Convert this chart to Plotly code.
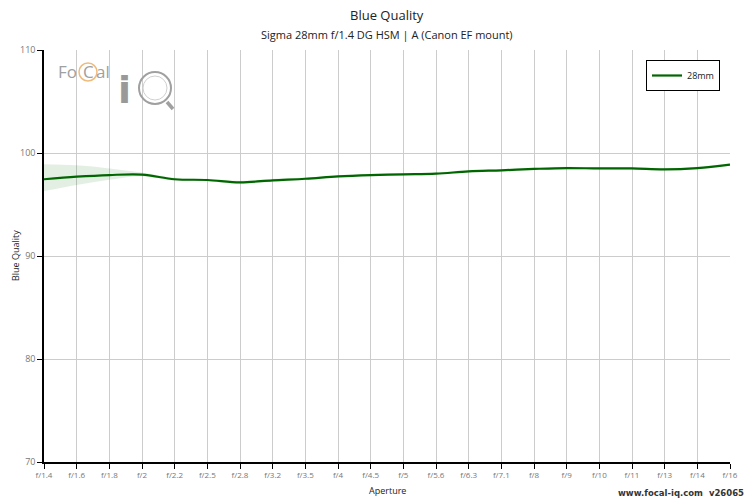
import plotly.graph_objects as go

# apertures and measured values
apertures = ["f/1.4", "f/1.6", "f/1.8", "f/2", "f/2.2", "f/2.5", "f/2.8", "f/3.2",
             "f/3.5", "f/4", "f/4.5", "f/5", "f/5.6", "f/6.3", "f/7.1", "f/8",
             "f/9", "f/10", "f/11", "f/13", "f/14", "f/16"]
quality = [97.45, 97.7, 97.86, 97.9, 97.45, 97.38, 97.15, 97.35, 97.5, 97.73, 97.86,
           97.93, 97.99, 98.22, 98.32, 98.45, 98.54, 98.5, 98.5, 98.41, 98.54, 98.87]
upper = [98.9, 98.8, 98.5, 98.1, 97.6, 97.5, 97.3, 97.5, 97.62, 97.85, 97.98,
         98.05, 98.1, 98.34, 98.44, 98.57, 98.66, 98.62, 98.62, 98.53, 98.66, 98.97]
lower = [96.3, 96.9, 97.4, 97.75, 97.3, 97.26, 97.0, 97.2, 97.38, 97.61, 97.74,
         97.81, 97.88, 98.1, 98.2, 98.33, 98.42, 98.38, 98.38, 98.29, 98.42, 98.77]

font = "Open Sans, Noto Sans, sans-serif"
L, R, T, B = 44, 730, 50, 462
W, H = R - L, B - T


def px(x):
    return (x - L) / W


def py(y):
    return (B - y) / H


fig = go.Figure()

fig.add_trace(go.Scatter(x=apertures, y=upper, mode="lines", line=dict(width=0, shape="spline"),
                         showlegend=False, hoverinfo="skip"))
fig.add_trace(go.Scatter(x=apertures, y=lower, mode="lines", line=dict(width=0, shape="spline"),
                         fill="tonexty", fillcolor="rgba(0,110,0,0.11)",
                         showlegend=False, hoverinfo="skip"))
fig.add_trace(go.Scatter(x=apertures, y=quality, mode="lines", name="28mm",
                         line=dict(color="#006600", width=2.2, shape="spline")))

# titles
fig.add_annotation(x=0.5, y=py(15), xref="paper", yref="paper", text="Blue Quality", showarrow=False,
                   xanchor="center", yanchor="middle", font=dict(family=font, size=13, color="#222222"))
fig.add_annotation(x=0.5, y=py(34), xref="paper", yref="paper",
                   text="Sigma 28mm f/1.4 DG HSM | A (Canon EF mount)", showarrow=False,
                   xanchor="center", yanchor="middle", font=dict(family=font, size=11, color="#222222"))
fig.add_annotation(x=0.5, y=py(490), xref="paper", yref="paper", text="Aperture", showarrow=False,
                   xanchor="center", yanchor="middle", font=dict(family=font, size=9, color="#222222"))
fig.add_annotation(x=px(15), y=py(256), xref="paper", yref="paper", text="Blue Quality", showarrow=False,
                   textangle=-90, xanchor="center", yanchor="middle",
                   font=dict(family=font, size=9, color="#222222"))

# logo watermark
logo_grey = "#a0a0a0"
for txt, xx in [("Fo", 56), ("C", 81), ("al", 94)]:
    fig.add_annotation(x=px(xx), y=py(72), xref="paper", yref="paper", text=txt, showarrow=False,
                       font=dict(family=font, size=17, color=logo_grey), xanchor="left", yanchor="middle")
fig.add_annotation(x=px(116), y=py(90), xref="paper", yref="paper", text="<b>i</b>",
                   showarrow=False, font=dict(family="DejaVu Sans", size=38, color="#999999"),
                   xanchor="left", yanchor="middle")
fig.add_shape(type="circle", xref="paper", yref="paper",
              x0=px(79), x1=px(97), y0=py(81), y1=py(63),
              line=dict(color="rgba(235,170,90,0.8)", width=1.5))
fig.add_shape(type="circle", xref="paper", yref="paper",
              x0=px(139), x1=px(171), y0=py(104), y1=py(72),
              line=dict(color="#a0a0a0", width=2))
fig.add_shape(type="circle", xref="paper", yref="paper",
              x0=px(143), x1=px(167), y0=py(100), y1=py(76),
              line=dict(color="#d0d0d0", width=1))
fig.add_shape(type="line", xref="paper", yref="paper",
              x0=px(167), x1=px(173), y0=py(102), y1=py(109),
              line=dict(color="#a0a0a0", width=3.5))

# legend shadow
fig.add_shape(type="rect", xref="paper", yref="paper",
              x0=px(649), x1=px(719), y0=py(90), y1=py(63),
              fillcolor="#c8c8c8", line=dict(width=0), layer="above")

fig.add_annotation(x=px(746), y=py(493), xref="paper", yref="paper", text="<b>www.focal-iq.com  v26065</b>",
                   showarrow=False, xanchor="right", yanchor="middle",
                   font=dict(family="DejaVu Sans, sans-serif", size=8.5, color="#333333"))

fig.update_layout(
    width=750, height=500,
    margin=dict(l=L, r=750 - R, t=T, b=500 - B, autoexpand=False),
    paper_bgcolor="white", plot_bgcolor="white",
    font=dict(family=font, size=10, color="#666666"),
    showlegend=True,
    legend=dict(x=px(646), y=py(60), xanchor="left", yanchor="top",
                bgcolor="white", bordercolor="black", borderwidth=1,
                font=dict(family=font, size=9, color="#222222")),
    xaxis=dict(type="category", range=[0, 21], showgrid=True, gridcolor="#cccccc",
               showline=True, linecolor="black", linewidth=1.5, ticks="outside", ticklen=5,
               tickcolor="black", tickfont=dict(size=8, color="#777777"), automargin=False,
               zeroline=False),
    yaxis=dict(range=[70, 110], dtick=10, showgrid=True, gridcolor="#cccccc",
               showline=True, linecolor="black", linewidth=1.5, ticks="outside", ticklen=5,
               tickcolor="black", tickfont=dict(size=9, color="#777777"), automargin=False,
               zeroline=False),
)

# page body has a default margin; drop it so the figure sits at the window corner
fig.write_html("out.html", config={"displayModeBar": False},
               post_script="document.body.style.margin='0';")
